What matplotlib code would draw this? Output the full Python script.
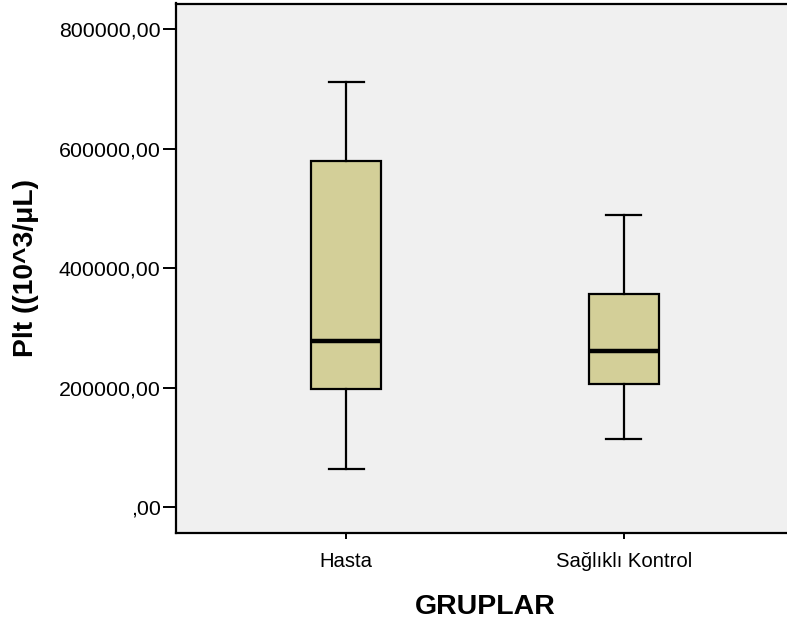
import matplotlib
matplotlib.use("Agg")
import matplotlib.pyplot as plt

plt.rcParams['font.family'] = ['Liberation Sans', 'DejaVu Sans']

categories = ["Hasta", "Sağlıklı Kontrol"]
whisker_low = [63600, 114300]
q1 = [197500, 205900]
median = [277800, 262100]
q3 = [580100, 357000]
whisker_high = [711800, 489200]
yticks = [0, 200000, 400000, 600000, 800000]
ytick_labels = [",00", "200000,00", "400000,00", "600000,00", "800000,00"]

stats = []
for i, c in enumerate(categories):
    stats.append(dict(label=c, whislo=whisker_low[i], q1=q1[i], med=median[i],
                      q3=q3[i], whishi=whisker_high[i], fliers=[]))

fig = plt.figure(figsize=(7.87, 6.31), dpi=100)
ax = fig.add_axes([176/787, 1-533/631, (794-176)/787, (533-3.5)/631])
ax.set_facecolor('#F0F0F0')

ax.bxp(stats, positions=[1, 2], widths=0.252, patch_artist=True,
       boxprops=dict(facecolor='#D3CF98', edgecolor='black', linewidth=1.6),
       medianprops=dict(color='black', linewidth=3.2),
       whiskerprops=dict(color='black', linewidth=1.6),
       capprops=dict(color='black', linewidth=1.6),
       capwidths=0.125, showfliers=False)

ax.set_xlim(0.387, 2.613)
ax.set_ylim(-43000, 843300)
ax.set_yticks(yticks)
ax.set_yticklabels(ytick_labels, fontsize=15.4)
ax.set_xticks([1, 2])
ax.set_xticklabels(categories, fontsize=14.6)
ax.tick_params(axis='y', length=9.5, width=1.4, pad=1.5)
ax.tick_params(axis='x', length=4, width=1.4, pad=10)
for s in ['left', 'bottom', 'top']:
    ax.spines[s].set_linewidth(1.6)
ax.spines['right'].set_visible(False)

ax.set_ylabel("Plt ((10^3/μL)", fontsize=20.3, fontweight='bold', labelpad=14)
ax.set_xlabel("GRUPLAR", fontsize=20.5, fontweight='bold', labelpad=16)

fig.savefig("out.png", dpi=100)
